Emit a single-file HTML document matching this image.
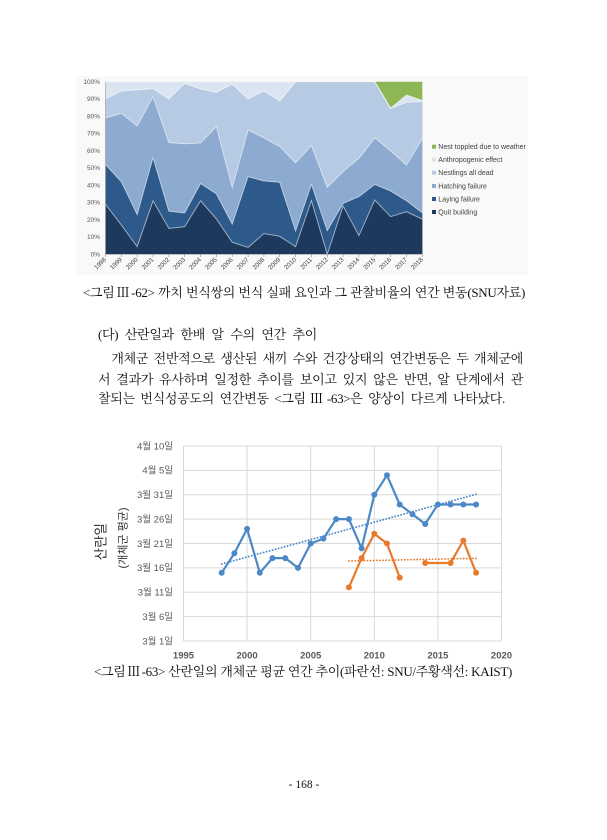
<!DOCTYPE html>
<html>
<head>
<meta charset="utf-8">
<style>
  html,body{margin:0;padding:0;background:#fff;}
  body{width:607px;height:840px;position:relative;overflow:hidden;}
  .t{position:absolute;font-family:"Liberation Serif","Noto Serif CJK SC",serif;font-size:13px;line-height:16px;color:#111;letter-spacing:-0.3px;word-spacing:-1.5px;white-space:normal;}
  .j{text-align:justify;text-align-last:justify;}
  svg{position:absolute;left:0;top:0;}
</style>
</head>
<body>
<svg width="607" height="840" viewBox="0 0 607 840" xmlns="http://www.w3.org/2000/svg">
  <!-- ===== Top chart ===== -->
  <rect x="76" y="76" width="452" height="199" fill="#f9f9f9"/>
  <g transform="translate(105.5,254.3) scale(15.84,-1.726)">
    <polygon fill="#8db654" points="0,0 20,0 20,100 0,100"/>
    <polygon fill="#dbe5f1" points="0,0 0,100 1,100 2,100 3,100 4,100 5,100 6,100 7,100 8,100 9,100 10,100 11,100 12,100 13,100 14,100 15,100 16,100 17,100 18,84.6 19,92.3 20,89.2 20,0"/>
    <polygon fill="#b7cae3" points="0,0 0,90 1,94.6 2,95.2 3,96 4,90 5,99 6,95.8 7,93.8 8,98.6 9,90 10,94.6 11,88.8 12,100 13,100 14,100 15,100 16,100 17,100 18,84.6 19,88 20,88.5 20,0"/>
    <polygon fill="#8dabd1" points="0,0 0,79 1,81.7 2,74.3 3,91.3 4,64.7 5,64 6,64.5 7,74 8,38.6 9,72 10,67.5 11,62.4 12,53 13,63 14,38.8 15,48 16,55.6 17,67.5 18,60 19,51.7 20,67 20,0"/>
    <polygon fill="#2d5a8b" points="0,0 0,52 1,42 2,23 3,56 4,25 5,24 6,41 7,35 8,17.5 9,45 10,42.5 11,41.7 12,13.5 13,40.5 14,13.7 15,29.5 16,33.4 17,40.5 18,36.7 19,31 20,24.1 20,0"/>
    <polygon fill="#1d3a5e" points="0,0 0,29 1,17 2,4.4 3,31 4,15 5,16 6,31 7,20.5 8,7 9,4 10,12 11,10.4 12,4.4 13,31.1 14,0 15,28 16,10.8 17,31.5 18,21.8 19,24.7 20,20.3 20,0"/>
    <g fill="none" stroke="#ffffff" stroke-opacity="0.6" stroke-width="0.9" vector-effect="non-scaling-stroke">
      <polyline vector-effect="non-scaling-stroke" points="0,100 17,100 18,84.6 19,92.3 20,89.2"/>
      <polyline vector-effect="non-scaling-stroke" points="0,90 1,94.6 2,95.2 3,96 4,90 5,99 6,95.8 7,93.8 8,98.6 9,90 10,94.6 11,88.8 12,100 17,100 18,84.6 19,88 20,88.5"/>
      <polyline vector-effect="non-scaling-stroke" points="0,79 1,81.7 2,74.3 3,91.3 4,64.7 5,64 6,64.5 7,74 8,38.6 9,72 10,67.5 11,62.4 12,53 13,63 14,38.8 15,48 16,55.6 17,67.5 18,60 19,51.7 20,67"/>
      <polyline vector-effect="non-scaling-stroke" points="0,52 1,42 2,23 3,56 4,25 5,24 6,41 7,35 8,17.5 9,45 10,42.5 11,41.7 12,13.5 13,40.5 14,13.7 15,29.5 16,33.4 17,40.5 18,36.7 19,31 20,24.1"/>
      <polyline vector-effect="non-scaling-stroke" points="0,29 1,17 2,4.4 3,31 4,15 5,16 6,31 7,20.5 8,7 9,4 10,12 11,10.4 12,4.4 13,31.1 14,0 15,28 16,10.8 17,31.5 18,21.8 19,24.7 20,20.3"/>
    </g>
  </g>
  <!-- axes -->
  <line x1="105.5" y1="81.7" x2="105.5" y2="254.3" stroke="#9a9a9a" stroke-width="0.6"/>
  <line x1="105.5" y1="254.3" x2="422.3" y2="254.3" stroke="#9a9a9a" stroke-width="0.6"/>
  <g stroke="#8a8a8a" stroke-width="0.6">
    <line x1="105.5" y1="254.3" x2="105.5" y2="257"/><line x1="121.3" y1="254.3" x2="121.3" y2="257"/><line x1="137.2" y1="254.3" x2="137.2" y2="257"/><line x1="153" y1="254.3" x2="153" y2="257"/><line x1="168.9" y1="254.3" x2="168.9" y2="257"/><line x1="184.7" y1="254.3" x2="184.7" y2="257"/><line x1="200.5" y1="254.3" x2="200.5" y2="257"/><line x1="216.4" y1="254.3" x2="216.4" y2="257"/><line x1="232.2" y1="254.3" x2="232.2" y2="257"/><line x1="248.1" y1="254.3" x2="248.1" y2="257"/><line x1="263.9" y1="254.3" x2="263.9" y2="257"/><line x1="279.7" y1="254.3" x2="279.7" y2="257"/><line x1="295.6" y1="254.3" x2="295.6" y2="257"/><line x1="311.4" y1="254.3" x2="311.4" y2="257"/><line x1="327.3" y1="254.3" x2="327.3" y2="257"/><line x1="343.1" y1="254.3" x2="343.1" y2="257"/><line x1="358.9" y1="254.3" x2="358.9" y2="257"/><line x1="374.8" y1="254.3" x2="374.8" y2="257"/><line x1="390.6" y1="254.3" x2="390.6" y2="257"/><line x1="406.5" y1="254.3" x2="406.5" y2="257"/><line x1="422.3" y1="254.3" x2="422.3" y2="257"/>
  </g>
  <g font-family="Liberation Sans, sans-serif" font-size="6.5" fill="#555" text-anchor="end">
    <text x="100" y="256.5">0%</text>
    <text x="100" y="239.2">10%</text>
    <text x="100" y="222">20%</text>
    <text x="100" y="204.7">30%</text>
    <text x="100" y="187.5">40%</text>
    <text x="100" y="170.2">50%</text>
    <text x="100" y="152.9">60%</text>
    <text x="100" y="135.7">70%</text>
    <text x="100" y="118.4">80%</text>
    <text x="100" y="101.2">90%</text>
    <text x="100" y="83.9">100%</text>
  </g>
  <g font-family="Liberation Sans, sans-serif" font-size="6.3" fill="#444" text-anchor="end">
    <text x="106.5" y="260" transform="rotate(-45 106.5 260)">1998</text>
    <text x="122.3" y="260" transform="rotate(-45 122.3 260)">1999</text>
    <text x="138.2" y="260" transform="rotate(-45 138.2 260)">2000</text>
    <text x="154" y="260" transform="rotate(-45 154 260)">2001</text>
    <text x="169.9" y="260" transform="rotate(-45 169.9 260)">2002</text>
    <text x="185.7" y="260" transform="rotate(-45 185.7 260)">2003</text>
    <text x="201.5" y="260" transform="rotate(-45 201.5 260)">2004</text>
    <text x="217.4" y="260" transform="rotate(-45 217.4 260)">2005</text>
    <text x="233.2" y="260" transform="rotate(-45 233.2 260)">2006</text>
    <text x="249.1" y="260" transform="rotate(-45 249.1 260)">2007</text>
    <text x="264.9" y="260" transform="rotate(-45 264.9 260)">2008</text>
    <text x="280.7" y="260" transform="rotate(-45 280.7 260)">2009</text>
    <text x="296.6" y="260" transform="rotate(-45 296.6 260)">2010</text>
    <text x="312.4" y="260" transform="rotate(-45 312.4 260)">2011</text>
    <text x="328.3" y="260" transform="rotate(-45 328.3 260)">2012</text>
    <text x="344.1" y="260" transform="rotate(-45 344.1 260)">2013</text>
    <text x="359.9" y="260" transform="rotate(-45 359.9 260)">2014</text>
    <text x="375.8" y="260" transform="rotate(-45 375.8 260)">2015</text>
    <text x="391.6" y="260" transform="rotate(-45 391.6 260)">2016</text>
    <text x="407.5" y="260" transform="rotate(-45 407.5 260)">2017</text>
    <text x="423.3" y="260" transform="rotate(-45 423.3 260)">2018</text>
  </g>
  <!-- legend -->
  <rect x="432" y="144.7" width="4" height="4" fill="#8db654"/>
  <rect x="432" y="157.7" width="4" height="4" fill="#dbe5f1"/>
  <rect x="432" y="170.7" width="4" height="4" fill="#b7cae3"/>
  <rect x="432" y="184" width="4" height="4" fill="#8dabd1"/>
  <rect x="432" y="197" width="4" height="4" fill="#2d5a8b"/>
  <rect x="432" y="210" width="4" height="4" fill="#1d3a5e"/>
  <g font-family="Liberation Sans, sans-serif" font-size="7" fill="#404040">
    <text x="438.3" y="149.2">Nest toppled due to weather</text>
    <text x="438.3" y="162.2">Anthropogenic effect</text>
    <text x="438.3" y="175.2">Nestlings all dead</text>
    <text x="438.3" y="188.5">Hatching failure</text>
    <text x="438.3" y="201.5">Laying failure</text>
    <text x="438.3" y="214.5">Quit building</text>
  </g>

  <!-- ===== Bottom chart ===== -->
  <g stroke="#d9d9d9" stroke-width="1" fill="none">
    <line x1="183.5" y1="446" x2="501.5" y2="446"/>
    <line x1="183.5" y1="470.4" x2="501.5" y2="470.4"/>
    <line x1="183.5" y1="494.75" x2="501.5" y2="494.75"/>
    <line x1="183.5" y1="519.1" x2="501.5" y2="519.1"/>
    <line x1="183.5" y1="543.5" x2="501.5" y2="543.5"/>
    <line x1="183.5" y1="567.9" x2="501.5" y2="567.9"/>
    <line x1="183.5" y1="592.25" x2="501.5" y2="592.25"/>
    <line x1="183.5" y1="616.6" x2="501.5" y2="616.6"/>
    <line x1="183.5" y1="641" x2="501.5" y2="641"/>
    <line x1="183.5" y1="446" x2="183.5" y2="641"/>
    <line x1="247.1" y1="446" x2="247.1" y2="641"/>
    <line x1="310.7" y1="446" x2="310.7" y2="641"/>
    <line x1="374.3" y1="446" x2="374.3" y2="641"/>
    <line x1="437.9" y1="446" x2="437.9" y2="641"/>
    <line x1="501.5" y1="446" x2="501.5" y2="641"/>
  </g>
  <g font-family="Liberation Sans, Noto Sans CJK KR, sans-serif" font-size="9.5" fill="#595959" text-anchor="end">
    <text x="173" y="644.3">3월 1일</text>
    <text x="173" y="619.9">3월 6일</text>
    <text x="173" y="595.5">3월 11일</text>
    <text x="173" y="571.2">3월 16일</text>
    <text x="173" y="546.8">3월 21일</text>
    <text x="173" y="522.4">3월 26일</text>
    <text x="173" y="498">3월 31일</text>
    <text x="173" y="473.7">4월 5일</text>
    <text x="173" y="449.3">4월 10일</text>
  </g>
  <g font-family="Liberation Sans, sans-serif" font-size="9.5" font-weight="bold" fill="#595959" text-anchor="middle">
    <text x="183.5" y="658.5">1995</text>
    <text x="247.1" y="658.5">2000</text>
    <text x="310.7" y="658.5">2005</text>
    <text x="374.3" y="658.5">2010</text>
    <text x="437.9" y="658.5">2015</text>
    <text x="501.5" y="658.5">2020</text>
  </g>
  <text x="101" y="541.7" transform="rotate(-90 101 541.7)" text-anchor="middle" dominant-baseline="central" font-family="Liberation Sans, Noto Sans CJK KR, sans-serif" font-size="13.5" fill="#333">산란일</text>
  <text x="123.3" y="538" transform="rotate(-90 123.3 538)" text-anchor="middle" dominant-baseline="central" font-family="Liberation Sans, Noto Sans CJK KR, sans-serif" font-size="11" fill="#333">(개체군 평균)</text>

  <!-- trend lines -->
  <line x1="221.7" y1="564" x2="476" y2="494.3" stroke="#4a88c7" stroke-width="1.8" stroke-dasharray="0.1 3" stroke-linecap="round"/>
  <line x1="348.9" y1="561" x2="476" y2="558.3" stroke="#e87a2c" stroke-width="1.8" stroke-dasharray="0.1 3" stroke-linecap="round"/>

  <!-- blue series -->
  <polyline fill="none" stroke="#4a88c7" stroke-width="2.2" stroke-linejoin="round" points="221.7,572.8 234.4,553.3 247.1,528.9 259.8,572.8 272.5,558.1 285.3,558.1 298,567.9 310.7,543.5 323.4,538.6 336.1,519.1 348.9,519.1 361.6,548.4 374.3,494.8 387,475.3 399.7,504.5 412.5,514.3 425.2,524 437.9,504.5 450.6,504.5 463.3,504.5 476.1,504.5"/>
  <g fill="#4a88c7">
    <circle cx="221.7" cy="572.8" r="3"/><circle cx="234.4" cy="553.3" r="3"/><circle cx="247.1" cy="528.9" r="3"/><circle cx="259.8" cy="572.8" r="3"/><circle cx="272.5" cy="558.1" r="3"/><circle cx="285.3" cy="558.1" r="3"/><circle cx="298" cy="567.9" r="3"/><circle cx="310.7" cy="543.5" r="3"/><circle cx="323.4" cy="538.6" r="3"/><circle cx="336.1" cy="519.1" r="3"/><circle cx="348.9" cy="519.1" r="3"/><circle cx="361.6" cy="548.4" r="3"/><circle cx="374.3" cy="494.8" r="3"/><circle cx="387" cy="475.3" r="3"/><circle cx="399.7" cy="504.5" r="3"/><circle cx="412.5" cy="514.3" r="3"/><circle cx="425.2" cy="524" r="3"/><circle cx="437.9" cy="504.5" r="3"/><circle cx="450.6" cy="504.5" r="3"/><circle cx="463.3" cy="504.5" r="3"/><circle cx="476.1" cy="504.5" r="3"/>
  </g>

  <!-- orange series -->
  <polyline fill="none" stroke="#e87a2c" stroke-width="2.2" stroke-linejoin="round" points="348.9,587.4 361.6,558.1 374.3,533.8 387,543.5 399.7,577.6"/>
  <polyline fill="none" stroke="#e87a2c" stroke-width="2.2" stroke-linejoin="round" points="425.2,563 450.6,563 463.3,540.6 476.1,572.8"/>
  <g fill="#e87a2c">
    <circle cx="348.9" cy="587.4" r="3"/><circle cx="361.6" cy="558.1" r="3"/><circle cx="374.3" cy="533.8" r="3"/><circle cx="387" cy="543.5" r="3"/><circle cx="399.7" cy="577.6" r="3"/><circle cx="425.2" cy="563" r="3"/><circle cx="450.6" cy="563" r="3"/><circle cx="463.3" cy="540.6" r="3"/><circle cx="476.1" cy="572.8" r="3"/>
  </g>
</svg>

<div class="t j" style="left:83px;top:285px;width:442px;">&lt;그림Ⅲ-62&gt; 까치 번식쌍의 번식 실패 요인과 그 관찰비율의 연간 변동(SNU자료)</div>

<div class="t j" style="left:98px;top:327px;width:219px;">(다) 산란일과 한배 알 수의 연간 추이</div>

<div class="t j" style="left:98px;top:351px;width:425px;text-indent:13.4px;">개체군 전반적으로 생산된 새끼 수와 건강상태의 연간변동은 두 개체군에</div>
<div class="t j" style="left:98px;top:371.5px;width:425px;">서 결과가 유사하며 일정한 추이를 보이고 있지 않은 반면, 알 단계에서 관</div>
<div class="t j" style="left:98px;top:390.5px;width:407px;">찰되는 번식성공도의 연간변동 &lt;그림Ⅲ-63&gt;은 양상이 다르게 나타났다.</div>

<div class="t j" style="left:94px;top:663.7px;width:418px;">&lt;그림Ⅲ-63&gt; 산란일의 개체군 평균 연간 추이(파란선: SNU/주황색선: KAIST)</div>

<div class="t" style="left:254px;top:777px;width:100px;text-align:center;font-size:11.5px;letter-spacing:0;word-spacing:0;">- 168 -</div>
</body>
</html>
